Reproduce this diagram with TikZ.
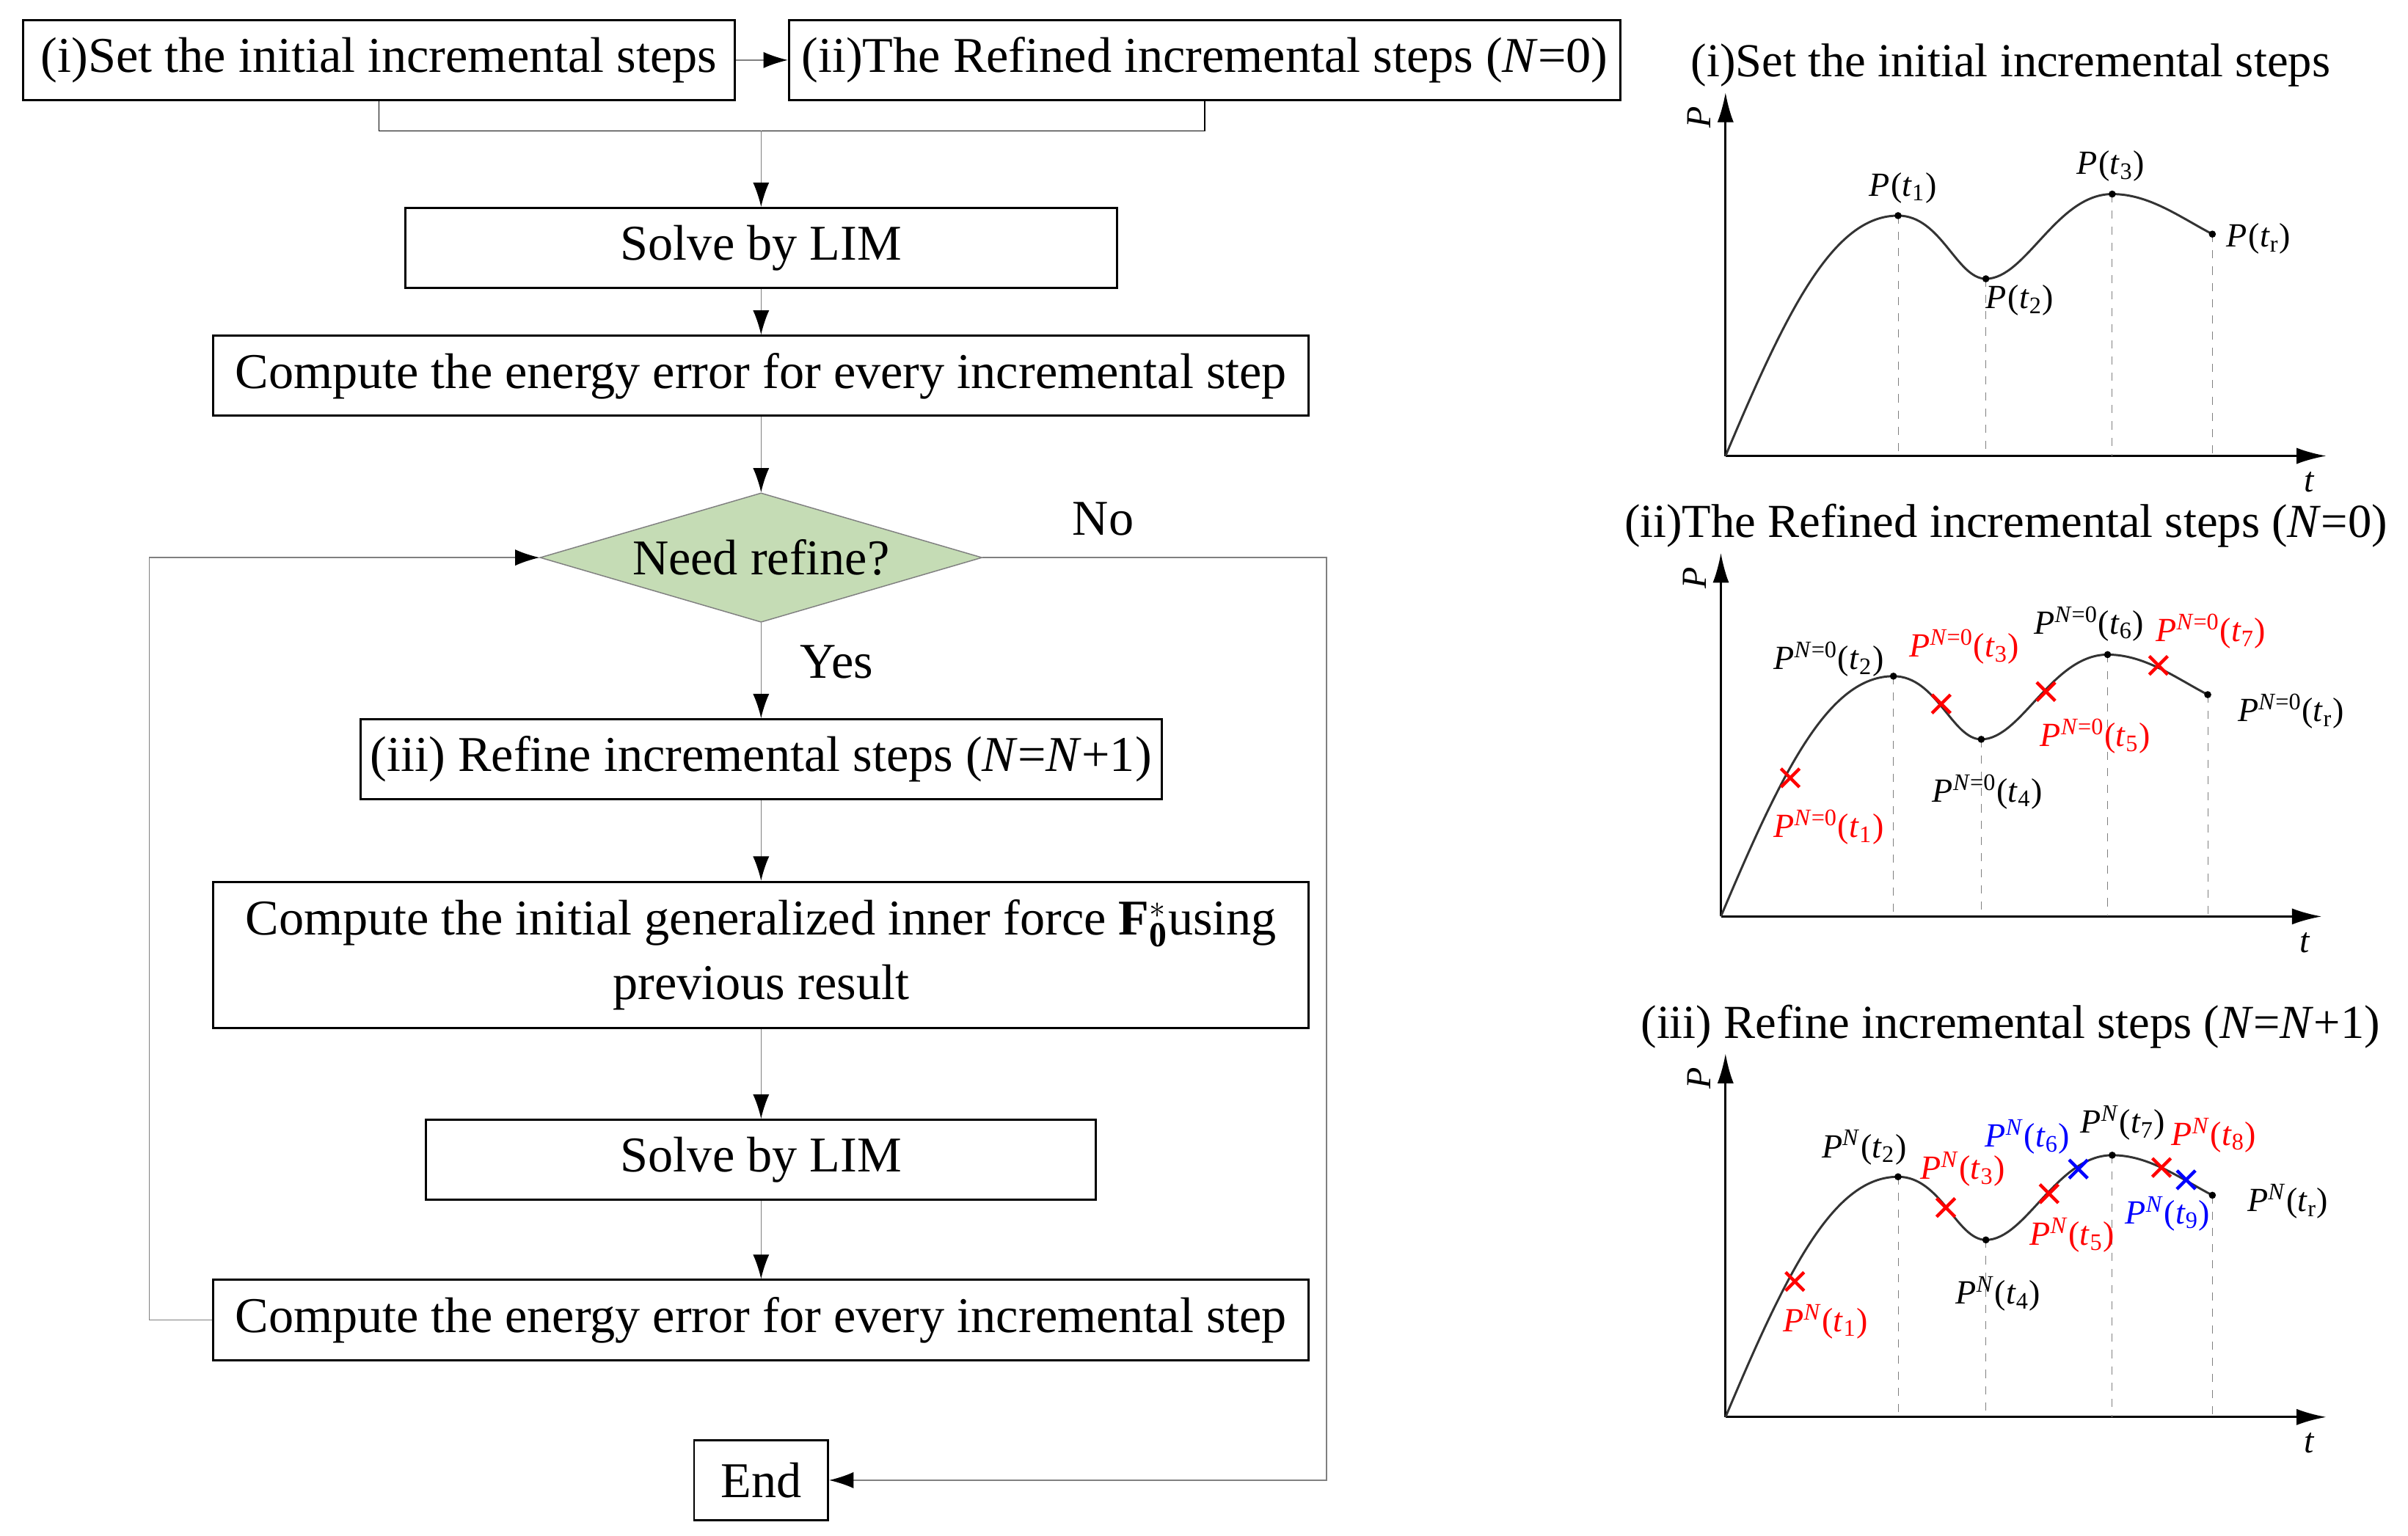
\documentclass[tikz,border=0pt]{standalone}
\usepackage{fontspec}
\setmainfont{Liberation Serif}
\usetikzlibrary{shapes.geometric,arrows.meta}
\newcommand\PL[2]{\textit{P}\textsuperscript{#2}(\textit{t}\textsubscript{#1})}
\newcommand\nz{\textit{N}=0}
\newcommand\nn{\textit{N}}
\begin{document}
\begin{tikzpicture}[x=0.02cm,y=-0.02cm,
  box/.style={draw,thick,inner sep=0,font=\fontsize{18.5}{22}\selectfont},
  con/.style={draw=gray,-{Latex[length=9pt,width=6pt,black]}},
  lab/.style={font=\fontsize{12.5}{14}\selectfont,inner sep=1pt},
  ttl/.style={font=\fontsize{17.5}{21}\selectfont},
  crv/.style={thick,black!80},
  dsh/.style={gray,dashed,very thin},
  ax/.style={thick,-{Latex[length=11pt,width=6pt]}},
  rx/.style={red,very thick},
  bx/.style={blue,very thick}]
\useasboundingbox (0,0) rectangle (1563,997);
\fill[white] (0,0) rectangle (1563,997);
% flowchart
\node[box,minimum width=9.24cm,minimum height=1.04cm] (b1) at (246,39) {(i)Set the initial incremental steps};
\node[box,minimum width=10.8cm,minimum height=1.04cm] (b2) at (782,39) {(ii)The Refined incremental steps (\textit{N}=0)};
\node[box,minimum width=9.24cm,minimum height=1.04cm] (s1) at (494,161) {Solve by LIM};
\node[box,minimum width=14.22cm,minimum height=1.04cm] (c1) at (494,244) {Compute the energy error for every incremental step};
\node[diamond,draw=gray,fill=olive!30!green!25!white!95!black,minimum width=5.74cm,minimum height=1.68cm,inner sep=0,aspect=3.4,font=\fontsize{18.5}{22}\selectfont] (d) at (494,362) {Need refine?};
\node[box,minimum width=10.4cm,minimum height=1.04cm] (r) at (494,493) {(iii) Refine incremental steps (\textit{N}=\textit{N}+1)};
\node[box,minimum width=14.22cm,minimum height=1.9cm,align=center] (f) at (494,620) {Compute the initial generalized inner force $\mathbf{F}_{\mathbf{0}}^{*}$using\\[2pt]previous result};
\node[box,minimum width=8.7cm,minimum height=1.04cm] (s2) at (494,753) {Solve by LIM};
\node[box,minimum width=14.22cm,minimum height=1.04cm] (c2) at (494,857) {Compute the energy error for every incremental step};
\node[box,minimum width=1.74cm,minimum height=1.04cm] (e) at (494,961) {End};
\coordinate (m) at (494,85);
\draw[con] (b1) -- (b2);
\draw[black] (b1.south) -- (246,85) -- (782,85) -- (b2.south);
\draw[con] (m) -- (s1);
\draw[con] (s1) -- (c1);
\draw[con] (c1) -- (d);
\draw[con] (d) -- (r);
\draw[con] (r) -- (f);
\draw[con] (f) -- (s2);
\draw[con] (s2) -- (c2);
\draw[con] (c2.west) -- (97,857) -- (97,362) -- (d.west);
\draw[con] (d.east) -- (861,362) -- (861,961) -- (e.east);
\node[font=\fontsize{18.5}{22}\selectfont] (no) at (716,337) {No};
\node[font=\fontsize{18.5}{22}\selectfont] (yes) at (543,430) {Yes};
% graphs
\foreach \ox/\oy/\tl in {1120/296/{(i)Set the initial incremental steps},1117/595/{(ii)The Refined incremental steps (\textit{N}=0)},1120/920/{(iii) Refine incremental steps (\textit{N}=\textit{N}+1)}}{
\begin{scope}[shift={(\ox,\oy)}]
\draw[ax] (0,0) -- (0,-236);
\draw[ax] (0,0) -- (390,0);
\node[ttl,anchor=base] at (185,-246) {\tl};
\node[lab,rotate=90,font=\fontsize{13}{14}\selectfont\itshape] at (-17,-220) {P};
\node[lab,font=\fontsize{13}{14}\selectfont\itshape] at (379,17) {t};
\draw[dsh] (112,-156) -- (112,0) (169,-115) -- (169,0) (251,-170) -- (251,0) (316,-144) -- (316,0);
\draw[crv] (0,0) .. controls (40,-95) and (70,-156) .. (112,-156) .. controls (140,-156) and (150,-115) .. (169,-115) .. controls (195,-115) and (215,-170) .. (251,-170) .. controls (275,-170) and (295,-155) .. (316,-144);
\foreach \p in {(112,-156),(169,-115),(251,-170),(316,-144)} \fill \p circle (2.3);
\end{scope}}
% graph 1 labels
\node[lab] at (1235,122) {\PL{1}{}};
\node[lab] at (1311,195) {\PL{2}{}};
\node[lab] at (1370,108) {\PL{3}{}};
\node[lab] at (1466,155) {\PL{r}{}};
% graph 2
\foreach \x/\y in {1162/505,1260/457,1328/449,1401/432}{
 \draw[rx] (\x-6,\y-6) -- (\x+6,\y+6) (\x-6,\y+6) -- (\x+6,\y-6);}
\node[lab] at (1187,428) {\PL{2}{\nz}};
\node[lab,red] at (1275,420) {\PL{3}{\nz}};
\node[lab] at (1356,405) {\PL{6}{\nz}};
\node[lab,red] at (1435,410) {\PL{7}{\nz}};
\node[lab] at (1487,462) {\PL{r}{\nz}};
\node[lab,red] at (1360,478) {\PL{5}{\nz}};
\node[lab] at (1290,514) {\PL{4}{\nz}};
\node[lab,red] at (1187,537) {\PL{1}{\nz}};
% graph 3
\foreach \x/\y in {1165/832,1263/784,1330/775,1403/758}{
 \draw[rx] (\x-6,\y-6) -- (\x+6,\y+6) (\x-6,\y+6) -- (\x+6,\y-6);}
\foreach \x/\y in {1349/759,1419/766}{
 \draw[bx] (\x-6,\y-6) -- (\x+6,\y+6) (\x-6,\y+6) -- (\x+6,\y-6);}
\node[lab] at (1210,745) {\PL{2}{\nn}};
\node[lab,red] at (1274,759) {\PL{3}{\nn}};
\node[lab,blue] at (1316,738) {\PL{6}{\nn}};
\node[lab] at (1378,729) {\PL{7}{\nn}};
\node[lab,red] at (1437,737) {\PL{8}{\nn}};
\node[lab] at (1485,780) {\PL{r}{\nn}};
\node[lab,blue] at (1407,788) {\PL{9}{\nn}};
\node[lab,red] at (1345,802) {\PL{5}{\nn}};
\node[lab] at (1297,840) {\PL{4}{\nn}};
\node[lab,red] at (1185,858) {\PL{1}{\nn}};
\end{tikzpicture}
\end{document}
